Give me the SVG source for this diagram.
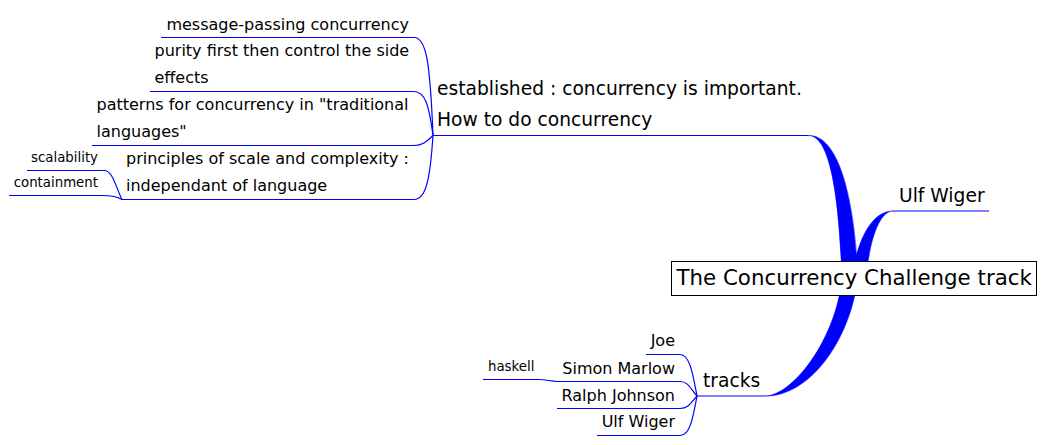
<svg xmlns="http://www.w3.org/2000/svg" width="1046" height="445" viewBox="0 0 1046 445">
<style>
text{font-family:"DejaVu Sans","Liberation Sans",sans-serif;fill:#000}
.t16{font-size:16px}
.t14{font-size:18.67px}
.t10{font-size:13.33px}
.root{font-size:21.33px}
.ln{fill:none;stroke:#0000ff;stroke-width:1.2}
.thick{fill:#0000ff;stroke:#0000ff;stroke-width:0.5}
</style>
<rect width="1046" height="445" fill="#fff"/>
<g id="connectors">
<path class="thick" d="M808,135.5 C831,135 839,200 842,280 L858,280 C855,200 839,134 808,135.5 Z"/>
<path class="thick" d="M893,211 C873,211 858,236 851,280 L866,280 C869,242 879,211 893,211 Z"/>
<path class="thick" d="M765,396 C792,396 836,340 842,278 L858,278 C849,345 807,397 765,396 Z"/>
<path class="ln" d="M433,135.5 H808"/>
<path class="ln" d="M433,135.5 C430,60 426,37.5 414,37.5 H161"/>
<path class="ln" d="M433,135.5 C429,105 425,91.5 414,91.5 H150"/>
<path class="ln" d="M433,135.5 C428,140 424,145.5 414,145.5 H92"/>
<path class="ln" d="M433,135.5 C430,180 426,199.5 414,199.5 H122"/>
<path class="ln" d="M122,199.5 C116,188 113,170.5 104,170.5 H27"/>
<path class="ln" d="M122,199.5 C118,197 114,195.5 102,195.5 H9"/>
<path class="ln" d="M893,211 H989"/>
<path class="ln" d="M697,396 H765"/>
<path class="ln" d="M697,396 C693,375 690,354.5 680,354.5 H646"/>
<path class="ln" d="M697,396 C690,388 688,381.5 680,381.5 H557"/>
<path class="ln" d="M697,396 C690,404 688,408.5 680,408.5 H557"/>
<path class="ln" d="M697,396 C693,418 690,435.5 680,435.5 H597"/>
<path class="ln" d="M557,381.5 C550,381 545,379.5 538,379.5 H483"/>
</g>
<g id="root">
<rect x="671.5" y="261.5" width="365" height="34" fill="#fff" stroke="#000" stroke-width="1"/>
<text class="root" x="676.5" y="285">The Concurrency Challenge track</text>
</g>
<g id="n-established">
<text class="t14" x="437" y="95">established : concurrency is important.</text>
<text class="t14" x="437" y="126">How to do concurrency</text>
</g>
<g id="n-message"><text class="t16" x="409" y="30" text-anchor="end">message-passing concurrency</text></g>
<g id="n-purity">
<text class="t16" x="154.5" y="56">purity first then control the side</text>
<text class="t16" x="154.5" y="83">effects</text>
</g>
<g id="n-patterns">
<text class="t16" x="96.5" y="110">patterns for concurrency in "traditional</text>
<text class="t16" x="96.5" y="137">languages"</text>
</g>
<g id="n-principles">
<text class="t16" x="126" y="164">principles of scale and complexity :</text>
<text class="t16" x="126" y="191">independant of language</text>
</g>
<g id="n-scalability"><text class="t10" x="98" y="162" text-anchor="end">scalability</text></g>
<g id="n-containment"><text class="t10" x="98" y="187" text-anchor="end">containment</text></g>
<g id="n-ulf-top"><text class="t14" x="899" y="202">Ulf Wiger</text></g>
<g id="n-tracks"><text class="t14" x="703" y="387">tracks</text></g>
<g id="n-joe"><text class="t16" x="675" y="346" text-anchor="end">Joe</text></g>
<g id="n-simon"><text class="t16" x="675" y="373.5" text-anchor="end">Simon Marlow</text></g>
<g id="n-haskell"><text class="t10" x="488" y="371">haskell</text></g>
<g id="n-ralph"><text class="t16" x="675" y="400.5" text-anchor="end">Ralph Johnson</text></g>
<g id="n-ulf"><text class="t16" x="675" y="427" text-anchor="end">Ulf Wiger</text></g>
</svg>
